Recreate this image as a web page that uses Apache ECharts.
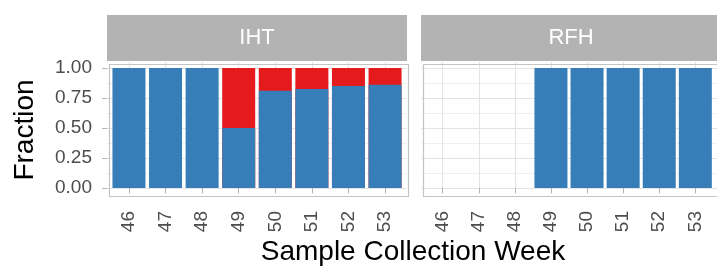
<!DOCTYPE html>
<html>
<head>
<meta charset="utf-8">
<script src="https://cdn.jsdelivr.net/npm/echarts@6/dist/echarts.min.js"></script>
<style>
  html, body { margin: 0; padding: 0; background: #fff; }
  #chart { width: 717px; height: 270px; }
</style>
</head>
<body>
<div id="chart"></div>
<script>
(function () {
    'use strict';

    // data
    var weeks = [46, 47, 48, 49, 50, 51, 52, 53];
    var panels = ['IHT', 'RFH'];
    var ihtBlue = [1, 1, 1, 0.5, 0.81, 0.825, 0.85, 0.86];
    var ihtRed = [0, 0, 0, 0.5, 0.19, 0.175, 0.15, 0.14];
    var rfhBlue = [null, null, null, 1, 1, 1, 1, 1];
    var rfhRed = [null, null, null, 0, 0, 0, 0, 0];
    var yTicks = [0, 0.25, 0.5, 0.75, 1];
    var yMinor = [0.125, 0.375, 0.625, 0.875];

    var font = 'Liberation Sans, Arial, sans-serif';
    var blue = '#377eb8';
    var red = '#e41a1c';
    var grid1 = { left: 107, top: 62, width: 300, height: 132 };
    var grid2 = { left: 421, top: 62, width: 300, height: 132 };

    // value axes do not stack, so the red part is drawn from 0 to blue+red
    // and the blue part is laid over it
    function pairs(vals) {
        return weeks.map(function (w, i) {
            return [w, vals[i]];
        });
    }

    function topOf(blueVals, redVals) {
        return weeks.map(function (w, i) {
            if (!redVals[i]) return [w, null];
            return [w, blueVals[i] + redVals[i]];
        });
    }

    function xAxis(idx) {
        return {
            type: 'value', gridIndex: idx,
            min: 45.4, max: 53.6,
            axisLine: { show: false },
            axisTick: { show: true, length: 5, lineStyle: { color: '#b3b3b3' }, customValues: weeks },
            axisLabel: {
                customValues: weeks, rotate: 90, color: '#4d4d4d',
                fontSize: 19, fontFamily: font, margin: 17,
                formatter: function (v) { return String(v); }
            },
            splitLine: { show: true, lineStyle: { color: '#e3e3e3', width: 1 } }
        };
    }

    function yAxis(idx, showLabels) {
        return {
            type: 'value', gridIndex: idx,
            min: -0.05, max: 1.05,
            axisLine: { show: false },
            axisTick: { show: showLabels, length: 5, lineStyle: { color: '#b3b3b3' }, customValues: yTicks },
            axisLabel: {
                show: showLabels, customValues: yTicks, color: '#4d4d4d',
                fontSize: 19, fontFamily: font, margin: 15,
                formatter: function (v) { return v.toFixed(2); }
            },
            splitLine: { show: true, lineStyle: { color: '#e3e3e3', width: 1 } }
        };
    }

    function minorAxis(idx) {
        return {
            type: 'value', gridIndex: idx,
            min: -0.05, max: 1.05,
            axisLine: { show: false },
            axisTick: { show: false, customValues: yMinor },
            axisLabel: { show: false, customValues: yMinor },
            splitLine: { show: true, lineStyle: { color: '#f0f0f0', width: 1 } }
        };
    }

    function bar(name, data, color, xi, yi) {
        return {
            type: 'bar', name: name,
            xAxisIndex: xi, yAxisIndex: yi,
            barWidth: 33, barGap: '-100%',
            itemStyle: { color: color },
            data: data,
            z: 3
        };
    }

    function strip(g, label) {
        return [
            {
                type: 'rect', left: g.left, top: 15, z: 10,
                shape: { width: g.width, height: 46 },
                style: { fill: '#b3b3b3' }
            },
            {
                type: 'text', x: g.left + 150, y: 38, z: 11,
                style: {
                    text: label, fill: '#ffffff', fontSize: 22, fontFamily: font,
                    align: 'center', verticalAlign: 'middle'
                }
            },
            {
                type: 'rect', left: g.left, top: g.top, z: 10,
                shape: { width: g.width - 1, height: g.height },
                style: { fill: 'none', stroke: '#c4c4c4', lineWidth: 1.2 }
            }
        ];
    }

    var chart = echarts.init(document.getElementById('chart'));

    chart.setOption({
        animation: false,
        backgroundColor: '#ffffff',
        grid: [grid1, grid2],
        xAxis: [xAxis(0), xAxis(1)],
        yAxis: [yAxis(0, true), yAxis(1, false), minorAxis(0), minorAxis(1)],
        series: [
            bar('red', topOf(ihtBlue, ihtRed), red, 0, 0),
            bar('blue', pairs(ihtBlue), blue, 0, 0),
            bar('red', topOf(rfhBlue, rfhRed), red, 1, 1),
            bar('blue', pairs(rfhBlue), blue, 1, 1)
        ],
        graphic: strip(grid1, panels[0]).concat(strip(grid2, panels[1])).concat([
            {
                type: 'text', x: 413, y: 252,
                style: {
                    text: 'Sample Collection Week', fill: '#000', fontSize: 28,
                    fontFamily: font, align: 'center', verticalAlign: 'middle'
                }
            },
            {
                type: 'text', x: 25, y: 130, rotation: Math.PI / 2,
                style: {
                    text: 'Fraction', fill: '#000', fontSize: 28,
                    fontFamily: font, align: 'center', verticalAlign: 'middle'
                }
            }
        ])
    });
})();
</script>
</body>
</html>
